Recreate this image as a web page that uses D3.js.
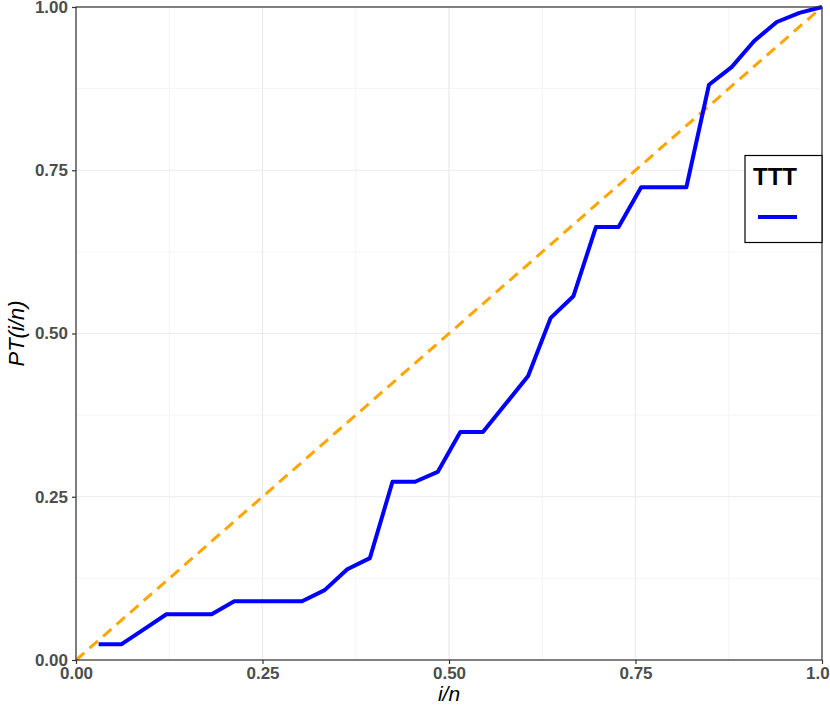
<!DOCTYPE html>
<html><head><meta charset="utf-8">
<script src="https://cdn.jsdelivr.net/npm/d3@7"></script>
<style>body{margin:0;background:#fff}</style>
</head><body>
<svg id="c" width="830" height="715"></svg>
<script>
const n = 33;
const ttt = [0.024,0.024,0.047,0.070,0.070,0.070,0.090,0.090,0.090,0.090,0.107,0.139,0.156,0.273,0.273,0.288,0.349,0.349,0.392,0.435,0.524,0.557,0.663,0.663,0.724,0.724,0.724,0.881,0.908,0.948,0.977,0.991,1.000];
const tickVals = [0,0.25,0.5,0.75,1];
const tickLabels = ["0.00","0.25","0.50","0.75","1.00"];
const minorVals = [0.125,0.375,0.625,0.875];
const diag = [[0,0],[1,1]];

const svg = d3.select("#c");
const L=76,R=822,T=7,B=660;
const x = d3.scaleLinear().domain([0,1]).range([L,R]);
const y = d3.scaleLinear().domain([0,1]).range([B,T]);
const FONT = "'Liberation Sans', Arial, sans-serif";

const g = svg.append("g");
minorVals.forEach(v=>{
  g.append("line").attr("x1",x(v)).attr("x2",x(v)).attr("y1",T).attr("y2",B).attr("stroke","#f4f4f4").attr("stroke-width",1);
  g.append("line").attr("y1",y(v)).attr("y2",y(v)).attr("x1",L).attr("x2",R).attr("stroke","#f4f4f4").attr("stroke-width",1);
});
tickVals.forEach(v=>{
  g.append("line").attr("x1",x(v)).attr("x2",x(v)).attr("y1",T).attr("y2",B).attr("stroke","#ebebeb").attr("stroke-width",1.2);
  g.append("line").attr("y1",y(v)).attr("y2",y(v)).attr("x1",L).attr("x2",R).attr("stroke","#ebebeb").attr("stroke-width",1.2);
});

svg.append("path").datum(diag)
  .attr("d", d3.line().x(d=>x(d[0])).y(d=>y(d[1])))
  .attr("fill","none").attr("stroke","#FFA500").attr("stroke-width",3).attr("stroke-dasharray","11,7");

const pts = ttt.map((v,i)=>[(i+1)/n, v]);
svg.append("path").datum(pts)
  .attr("d", d3.line().x(d=>x(d[0])).y(d=>y(d[1])))
  .attr("fill","none").attr("stroke","#0000FF").attr("stroke-width",4).attr("stroke-linejoin","round");

svg.append("rect").attr("x",L).attr("y",T).attr("width",R-L).attr("height",B-T)
  .attr("fill","none").attr("stroke","#333").attr("stroke-width",1.2);

const fmt = (d)=>tickLabels[tickVals.indexOf(d)];
const xa = svg.append("g").attr("transform",`translate(0,${B})`)
  .call(d3.axisBottom(x).tickValues(tickVals).tickFormat(fmt).tickSizeOuter(0).tickSize(4).tickPadding(3));
const ya = svg.append("g").attr("transform",`translate(${L},0)`)
  .call(d3.axisLeft(y).tickValues(tickVals).tickFormat(fmt).tickSizeOuter(0).tickSize(4).tickPadding(4));
[xa,ya].forEach(a=>{
  a.select(".domain").remove();
  a.selectAll(".tick line").attr("stroke","#333").attr("stroke-width",1.2);
  a.selectAll(".tick text").attr("fill","#4d4d4d").style("font-family",FONT)
    .style("font-size","17px").style("font-weight","bold");
});

svg.append("text").attr("x",(L+R)/2).attr("y",701).attr("text-anchor","middle")
  .style("font-family",FONT).style("font-size","21px").style("font-style","italic")
  .text("i/n");
svg.append("text").attr("transform",`translate(24,${(T+B)/2}) rotate(-90)`).attr("text-anchor","middle")
  .style("font-family",FONT).style("font-size","22px").style("font-style","italic")
  .text("PT(i/n)");

const lg = svg.append("g");
lg.append("rect").attr("x",745).attr("y",155.5).attr("width",77).attr("height",87)
  .attr("fill","#fff").attr("stroke","#000").attr("stroke-width",1.2);
lg.append("text").attr("x",753).attr("y",185)
  .style("font-family",FONT).style("font-size","24px").style("font-weight","bold")
  .text("TTT");
lg.append("line").attr("x1",758).attr("x2",797).attr("y1",217).attr("y2",217)
  .attr("stroke","#0000FF").attr("stroke-width",4);
</script>
</body></html>
